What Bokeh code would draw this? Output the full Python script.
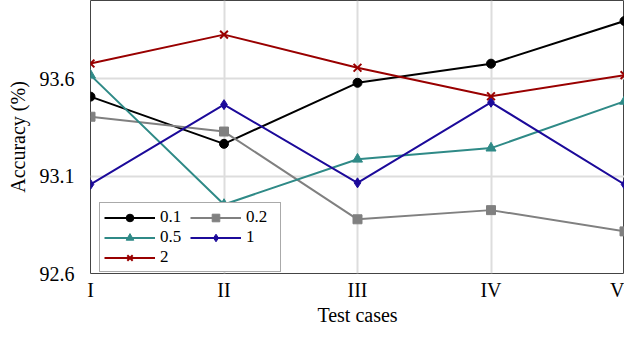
from bokeh.plotting import figure
from bokeh.models import FixedTicker, Range1d, Legend, LegendItem, Title
from bokeh.embed import file_html
from bokeh.resources import INLINE

cases = ["I", "II", "III", "IV", "V"]
s01 = [93.507, 93.265, 93.578, 93.676, 93.895]
s02 = [93.404, 93.328, 92.878, 92.925, 92.816]
s05 = [93.617, 92.954, 93.186, 93.243, 93.483]
s1 = [93.057, 93.466, 93.065, 93.478, 93.057]
s2 = [93.677, 93.825, 93.655, 93.509, 93.617]
y_ticks = [92.6, 93.1, 93.6]

xs = list(range(len(cases)))
FONT = "Liberation Serif"

p = figure(width=624, height=323, output_backend="svg", toolbar_location=None,
           x_range=Range1d(0, len(cases) - 1), y_range=Range1d(92.6, 94.0),
           min_border_left=90, min_border_right=0, min_border_top=0, min_border_bottom=10)

p.outline_line_color = "#444444"
p.outline_line_width = 1

for ax in (p.xaxis[0], p.yaxis[0]):
    ax.axis_line_color = None
    ax.major_tick_line_color = None
    ax.minor_tick_line_color = None
    ax.major_tick_in = 0
    ax.major_tick_out = 0
    ax.minor_tick_in = 0
    ax.minor_tick_out = 0
    ax.major_label_text_font = FONT
    ax.major_label_text_font_size = "20px"
    ax.major_label_text_color = "black"
    ax.axis_label_text_font = FONT
    ax.axis_label_text_font_size = "20px"
    ax.axis_label_text_font_style = "normal"
    ax.axis_label_text_color = "black"

p.xaxis.ticker = FixedTicker(ticks=xs)
p.xaxis.major_label_overrides = {i: c for i, c in enumerate(cases)}
p.xaxis.major_label_standoff = 5

p.yaxis.ticker = FixedTicker(ticks=y_ticks)
p.yaxis.major_label_standoff = 16
p.yaxis.axis_label = "Accuracy (%)"
p.yaxis.axis_label_standoff = 8

xtitle = Title(text="Test cases", align="center", text_font=FONT,
               text_font_size="20px", text_font_style="normal",
               text_color="black", standoff=-4, offset=0)
p.add_layout(xtitle, "below")

p.xgrid.grid_line_color = "#dddddd"
p.ygrid.grid_line_color = "#dddddd"
p.xgrid.grid_line_width = 2
p.ygrid.grid_line_width = 2

specs = [
    ("0.1", s01, "black", "circle", 9),
    ("0.2", s02, "#808080", "square", 9),
    ("0.5", s05, "#2f8a87", "triangle", 10),
    ("1", s1, "#1c0a9a", "diamond", 10),
    ("2", s2, "#990000", "x", 11),
]
items = {}
for label, ys, color, marker, size in specs:
    r1 = p.line(xs, ys, line_color=color, line_width=2)
    r2 = p.scatter(xs, ys, marker=marker, size=size, fill_color=color,
                   line_color=color, line_width=2 if marker == "x" else 1)
    items[label] = LegendItem(label=label, renderers=[r1, r2])

order = ["0.1", "0.5", "2", "0.2", "1"]
legend = Legend(items=[items[k] for k in order], location=(9, 1), nrows=3,
                label_text_font=FONT, label_text_font_size="17px",
                label_text_font_style="normal", label_text_color="black",
                glyph_width=51, glyph_height=19, label_height=19, label_width=30,
                label_standoff=5, spacing=0, padding=4, margin=0,
                border_line_color="#555555", border_line_width=1,
                background_fill_alpha=1)
p.add_layout(legend, "center")

open("out.html", "w").write(file_html(p, INLINE))
